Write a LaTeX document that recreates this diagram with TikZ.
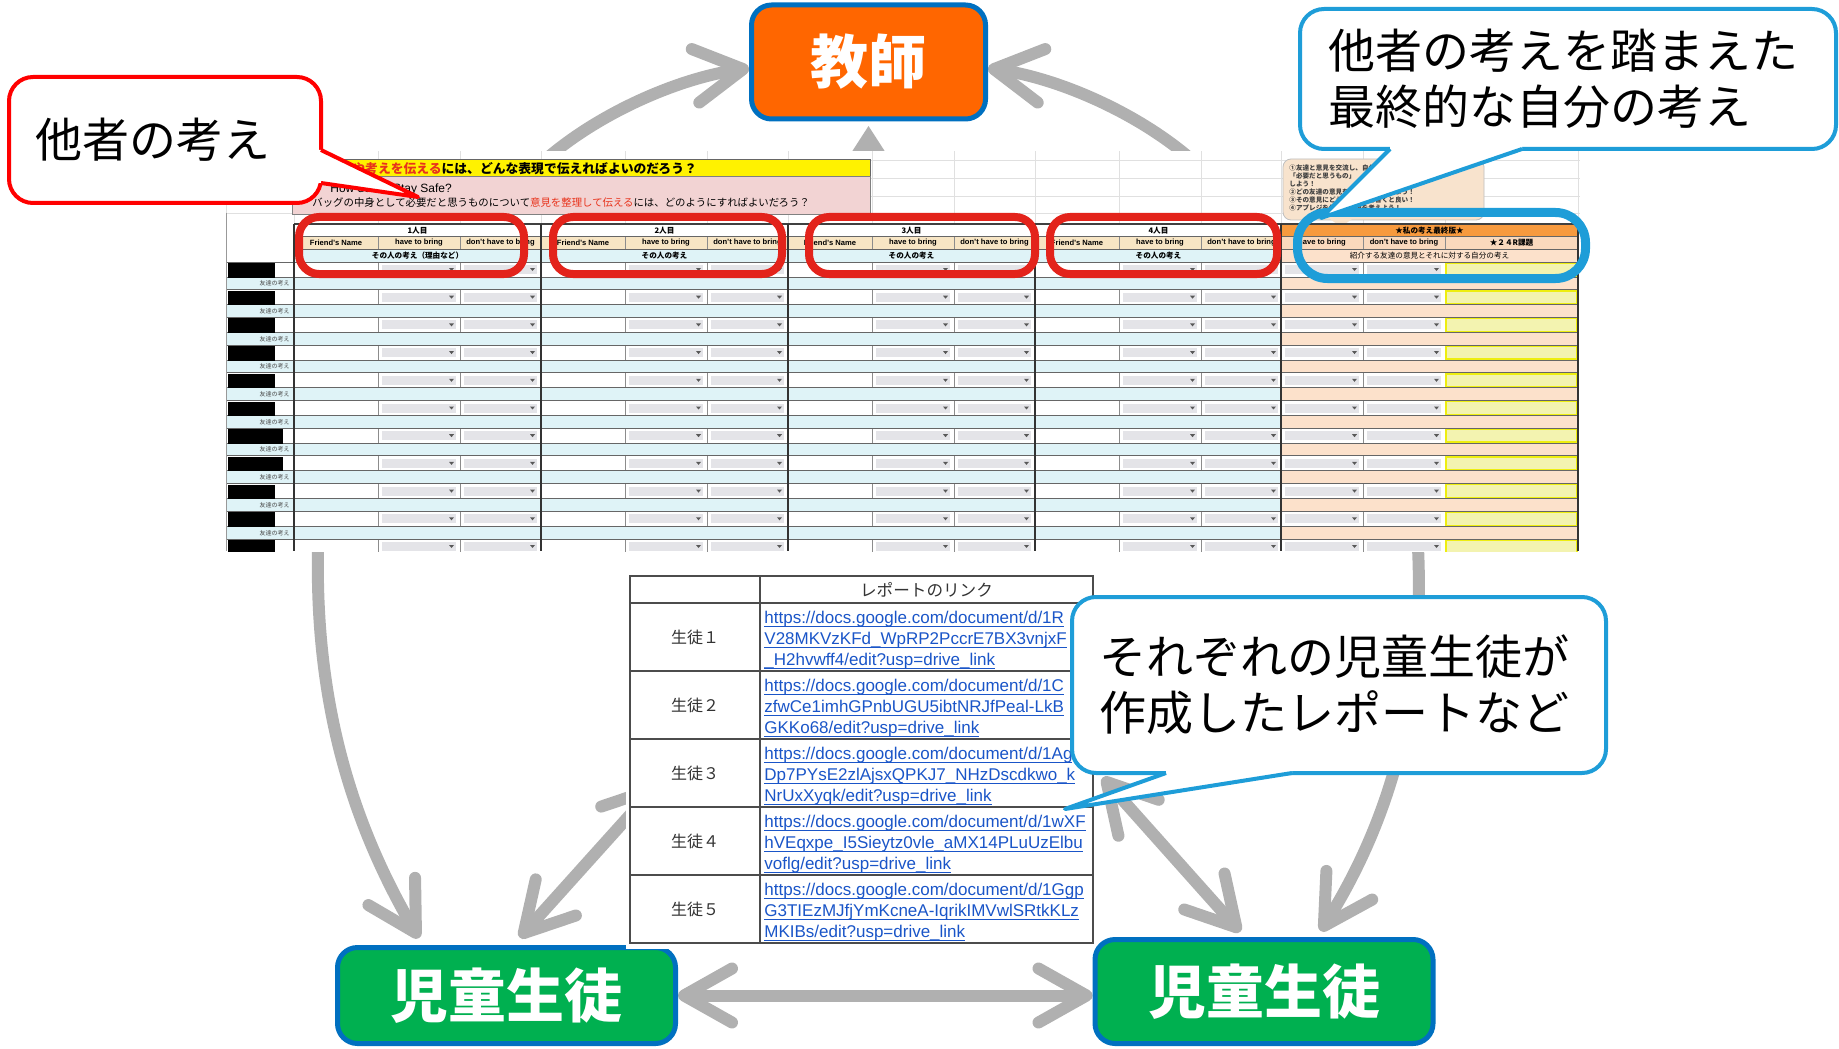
\documentclass[tikz,border=0pt]{standalone}
\usepackage{fontspec}
\setmainfont{Liberation Sans}
\newfontfamily\jp{Noto Sans CJK JP}
\usetikzlibrary{arrows.meta,calc}
\definecolor{torange}{HTML}{FF6600}
\definecolor{nblue}{HTML}{0070C0}
\definecolor{sgreen}{HTML}{00B050}
\definecolor{cblue}{HTML}{1E9DD8}
\definecolor{cred}{HTML}{FF0000}
\definecolor{ared}{HTML}{E3231B}
\definecolor{agray}{HTML}{B0B0B0}
\definecolor{lblue}{HTML}{DFF3F7}
\definecolor{peach}{HTML}{FCE1CB}
\definecolor{peachh}{HTML}{FAD9BD}
\definecolor{sheettan}{HTML}{F7E5C4}
\definecolor{sorange}{HTML}{F79A3E}
\definecolor{ddgray}{HTML}{E4E4E8}
\definecolor{linkblue}{HTML}{1A55C8}
\definecolor{pinkbox}{HTML}{F2D3D3}
\definecolor{tipbg}{HTML}{F8E3CD}
\definecolor{ycell}{HTML}{F3F3B0}
\definecolor{yellowb}{HTML}{EEEE10}
\definecolor{titlered}{HTML}{E8331C}
\pgfdeclarelayer{bg}
\pgfsetlayers{bg,main}
\newsavebox\ulbox
\newcommand\uln[1]{\sbox\ulbox{#1}\rlap{\usebox\ulbox}\rule[-1.5pt]{\wd\ulbox}{0.5pt}}
\newcommand\ddbox[3]{%
  \fill[ddgray] ({#1+4},{#3+3}) rectangle ({#2-4},{#3+12});
  \fill[black!65] ({#2-11},{#3+6}) -- ({#2-6},{#3+6}) -- ({#2-8.5},{#3+9}) -- cycle;}
\begin{document}
\begin{tikzpicture}[x=0.5pt,y=-0.5pt,
  >={Straight Barb[length=24pt,width=27pt,round]},
  garrow/.style={draw=agray, line width=6pt, line cap=round},
  callbox/.style={fill=white, line width=2pt, rounded corners=12pt, align=left, inner sep=0pt, font=\jp\fontsize{23.5}{28}\selectfont},
  studbox/.style={draw=nblue, fill=sgreen, line width=2.5pt, rounded corners=10pt, minimum width=169pt, text=white, font=\jp\bfseries\fontsize{29}{34}\selectfont, inner sep=0pt},
  shb/.style={inner sep=0pt, font=\jp\bfseries\fontsize{3.8}{4}\selectfont},
  shl/.style={inner sep=0pt, font=\bfseries\fontsize{3.8}{4}\selectfont},
  tinyjp/.style={inner sep=0pt, font=\jp\fontsize{3}{3.5}\selectfont, text=black!70},
  hl/.style={draw=black!60, line width=0.5pt},
  vl/.style={draw=black!45, line width=0.4pt},
  faint/.style={draw=black!12, line width=0.4pt},
  link/.style={align=left, inner sep=0pt, text=linkblue, font=\fontsize{8.5}{10.5}\selectfont},
  tlab/.style={inner sep=0pt, text=black!80, font=\jp\fontsize{8}{9}\selectfont}
]
\useasboundingbox (0,0) rectangle (1839,1048);

% ---------------- spreadsheet ----------------
\node[fill=white, minimum width=677pt, minimum height=200pt, inner sep=0pt] (sheet) at (903,351) {};
\begin{scope}
\clip (226,151) rectangle (1580,551);
\foreach \x in {226,294,378,460,541,625,707,788,872,954,1035,1119,1201,1281,1363,1445,1578}
  \draw[faint] (\x,151) -- (\x,224);
\foreach \y in {160,178,196,213}
  \draw[faint] (226,\y) -- (1580,\y);
% title bar and question
\draw[fill=yellow, draw=black!60, line width=0.5pt] (292,160) rectangle (870,177);
\node[anchor=west, inner sep=0pt, font=\jp\bfseries\fontsize{6.4}{7}\selectfont] (ttl) at (352,168.5)
  {\textcolor{titlered}{や考えを伝える}には、どんな表現で伝えればよいのだろう？};
\draw[fill=pinkbox, draw=black!50, line width=0.5pt] (292,177) rectangle (870,215);
\node[anchor=west, inner sep=0pt, font=\fontsize{6}{7}\selectfont] (q1) at (330,189.5) {How do we Stay Safe?};
\node[anchor=west, inner sep=0pt, font=\jp\fontsize{5.2}{6}\selectfont] (q2) at (312,202.5)
  {バッグの中身として必要だと思うものについて\textcolor{titlered}{意見を整理して伝える}には、どのようにすればよいだろう？};
% tooltip
\draw[fill=tipbg, draw=black!25, line width=0.4pt, rounded corners=4pt] (1283,159) rectangle (1484,220);
\fill[tipbg] (1330,219) -- (1352,219) -- (1341,227) -- cycle;
\node[anchor=north west, align=left, inner sep=0pt, font=\jp\bfseries\fontsize{3.3}{4}\selectfont, text=black!75] (tip) at (1289,164)
  {①友達と意見を交流し、自分が　　　を決定\\「必要だと思うもの」\\しよう！\\②どの友達の意見を紹介するか決めよう！\\③その意見にどう思ったかを書くと良い！\\④アプレジを使って表現を考えよう！};
% header rows
\foreach \g/\lab/\sub in {0/1人目/その人の考え（理由など）,1/2人目/その人の考え,2/3人目/その人の考え,3/4人目/その人の考え} {
  \pgfmathsetmacro\gx{294+247*\g}
  \fill[sheettan] (\gx,236.5) rectangle (\gx+247,249);
  \fill[lblue] (\gx,249) rectangle (\gx+247,262);
  \node[shb] at (\gx+123.5,230.5) {\lab};
  \node[shl] at (\gx+42,242.8) {Friend's Name};
  \node[shl] at (\gx+125,242.8) {have to bring};
  \node[shl] at (\gx+206.5,242.8) {don't have to bring};
  \node[shb] at (\gx+123.5,255.5) {\sub};
  \draw[vl] (\gx+84,236.5) -- (\gx+84,249) (\gx+166,236.5) -- (\gx+166,249);
}
\fill[sorange] (1281,224) rectangle (1578,236.5);
\fill[peachh] (1281,236.5) rectangle (1578,249);
\fill[peach] (1281,249) rectangle (1578,262);
\node[shb] at (1429.5,230.5) {★私の考え最終版★};
\node[shl] at (1322,242.8) {have to bring};
\node[shl] at (1404,242.8) {don't have to bring};
\node[shb] at (1511.5,242.8) {★２４R課題};
\node[inner sep=0pt, font=\jp\fontsize{3.8}{4}\selectfont] at (1429.5,255.5) {紹介する友達の意見とそれに対する自分の考え};
\draw[vl] (1363,236.5) -- (1363,249) (1445,236.5) -- (1445,249);
\draw[draw=black!75, line width=0.8pt] (294,224) -- (1578,224);
\draw[hl] (294,236.5) -- (1578,236.5) (294,249) -- (1578,249) (226,262) -- (1578,262);
% data rows
\fill[lblue] (226,262) rectangle (1281,551);
\fill[peach] (1281,262) rectangle (1578,551);
\foreach \i in {0,...,10} {
  \pgfmathsetmacro\wt{262+27.7*\i}
  \pgfmathsetmacro\bx{(\i==6||\i==7)?283:275}
  \fill[white] (226,\wt) rectangle (1578,\wt+15);
  \foreach \g in {0,...,3} {
    \pgfmathsetmacro\gx{294+247*\g}
    \ddbox{\gx+84}{\gx+166}{\wt}
    \ddbox{\gx+166}{\gx+247}{\wt}
    \draw[vl] (\gx+84,\wt) -- (\gx+84,\wt+15) (\gx+166,\wt) -- (\gx+166,\wt+15);
  }
  \ddbox{1281}{1363}{\wt}
  \ddbox{1363}{1445}{\wt}
  \draw[vl] (1363,\wt) -- (1363,\wt+15);
  \draw[fill=ycell, draw=yellowb, line width=0.8pt] (1446,\wt+1) rectangle (1577,\wt+14);
  \draw[hl] (226,\wt) -- (1578,\wt) (226,\wt+15) -- (1578,\wt+15);
  \fill[black] (228,\wt+1) rectangle (\bx,\wt+15.5);
  \node[tinyjp, anchor=east] at (290,\wt+21.5) {友達の考え};
}
\foreach \x in {294,541,788,1035,1281,1578}
  \draw[draw=black!80, line width=0.8pt] (\x,224) -- (\x,551);
\draw[draw=black!40, line width=0.5pt] (226,213) -- (226,551);
\end{scope}
% highlight frames
\foreach \a/\b in {299/524,553/782,809/1035,1050/1277}
  \draw[ared, line width=4pt, rounded corners=10pt] (\a,217) rectangle (\b,274);
\draw[cblue, line width=4.5pt, rounded corners=15pt] (1297.5,212.5) rectangle (1585.5,278.5);

% ---------------- main nodes ----------------
\node[draw=nblue, fill=torange, line width=2.5pt, rounded corners=10pt, minimum width=117pt, minimum height=57pt,
      text=white, font=\jp\bfseries\fontsize{29}{34}\selectfont, inner sep=0pt] (teacher) at (868.5,62) {教師};
\node[studbox, minimum height=48pt] (lstud) at (506.5,995.5) {児童生徒};

% table of report links
\fill[white] (626,571) rectangle (1098,949);
\node[draw=black!70, line width=0.6pt, fill=white, minimum width=231.5pt, minimum height=183.5pt, inner sep=0pt] (table) at (861.5,759.5) {};
\draw[draw=black!70, line width=0.6pt] (760,576) -- (760,943);
\foreach \y in {603,671,739,807,875}
  \draw[draw=black!70, line width=0.6pt] (630,\y) -- (1093,\y);
\node[inner sep=0pt, text=black!80, font=\jp\fontsize{8.3}{9}\selectfont] (thead) at (926.5,590) {レポートのリンク};
\node[tlab] (s1) at (695,637) {生徒１};
\node[tlab] (s2) at (695,705) {生徒２};
\node[tlab] (s3) at (695,773) {生徒３};
\node[tlab] (s4) at (695,841) {生徒４};
\node[tlab] (s5) at (695,909) {生徒５};
\node[link, anchor=north west] (l1) at (764,611)
  {\uln{https://docs.google.com/document/d/1R}\\\uln{V28MKVzKFd\_WpRP2PccrE7BX3vnjxF}\\\uln{\_H2hvwff4/edit?usp=drive\_link}};
\node[link, anchor=north west] (l2) at (764,679)
  {\uln{https://docs.google.com/document/d/1C}\\\uln{zfwCe1imhGPnbUGU5ibtNRJfPeal-LkB}\\\uln{GKKo68/edit?usp=drive\_link}};
\node[link, anchor=north west] (l3) at (764,747)
  {\uln{https://docs.google.com/document/d/1Ag}\\\uln{Dp7PYsE2zlAjsxQPKJ7\_NHzDscdkwo\_k}\\\uln{NrUxXyqk/edit?usp=drive\_link}};
\node[link, anchor=north west] (l4) at (764,815)
  {\uln{https://docs.google.com/document/d/1wXF}\\\uln{hVEqxpe\_I5Sieytz0vle\_aMX14PLuUzElbu}\\\uln{voflg/edit?usp=drive\_link}};
\node[link, anchor=north west] (l5) at (764,883)
  {\uln{https://docs.google.com/document/d/1Ggp}\\\uln{G3TIEzMJfjYmKcneA-IqrikIMVwlSRtkKLz}\\\uln{MKIBs/edit?usp=drive\_link}};

\node[studbox, minimum height=52pt] (rstud) at (1264,991.5) {児童生徒};

% ---------------- callouts ----------------
\node[callbox, draw=cred, minimum width=156pt, minimum height=63pt, text width=130pt] (cl) at (165,140) {他者の考え};
\fill[white] (314,150) -- (314,183) -- (321,183) -- (418,197) -- (321,150) -- cycle;
\draw[cred, line width=2pt, line join=round] (321,150) -- (418,197) -- (321,183);

\node[callbox, draw=cblue, minimum width=268pt, minimum height=70pt, text width=240pt] (ctr) at (1568,79)
  {他者の考えを踏まえた\\最終的な自分の考え};
\fill[white] (1390,143) -- (1522,143) -- (1522,149) -- (1321,218) -- (1390,149) -- cycle;
\draw[cblue, line width=2pt, line join=round] (1390,149) -- (1321,218) -- (1522,149);

\node[callbox, draw=cblue, minimum width=267pt, minimum height=88pt, text width=240pt] (cbr) at (1339,685)
  {それぞれの児童生徒が\\作成したレポートなど};
\fill[white] (1166,766) -- (1292,766) -- (1292,773) -- (1065,809) -- (1166,773) -- cycle;
\draw[cblue, line width=2pt, line join=round] (1166,773) -- (1065,809) -- (1292,773);

% ---------------- arrows (behind) ----------------
\begin{pgfonlayer}{bg}
\coordinate (a1s) at (545,160);
\coordinate (a2s) at (1192,160);
\coordinate (a3s) at (868.5,230);
\coordinate (a4s) at (318,548);
\coordinate (a5s) at (1418,548);
\draw[garrow,->] (a1s) .. controls (600,112) and (680,78) .. (teacher.183);
\draw[garrow,->] (a2s) .. controls (1137,112) and (1057,78) .. (teacher.357);
\draw[draw=agray, line width=6pt, -{Triangle[length=20pt,width=24pt]}, shorten >=2pt] (a3s) -- (teacher.south);
\draw[garrow,->, shorten >=4pt] (a4s) .. controls (315,700) and (350,820) .. ([xshift=-41.75pt]lstud.north);
\draw[garrow,->, shorten >=3.5pt] (a5s) .. controls (1425,700) and (1390,820) .. ([xshift=26.5pt]rstud.north);
\draw[garrow,<->, shorten <=5pt] ([xshift=3.25pt]lstud.north) -- ($(table.west)+(28,25)$);
\draw[garrow,<->, shorten >=3.5pt] ($(table.east)+(9,18)$) -- ([xshift=-9.5pt]rstud.north);
\draw[garrow,<->] (lstud.east) -- (lstud.east -| rstud.west);
\end{pgfonlayer}
\end{tikzpicture}
\end{document}
